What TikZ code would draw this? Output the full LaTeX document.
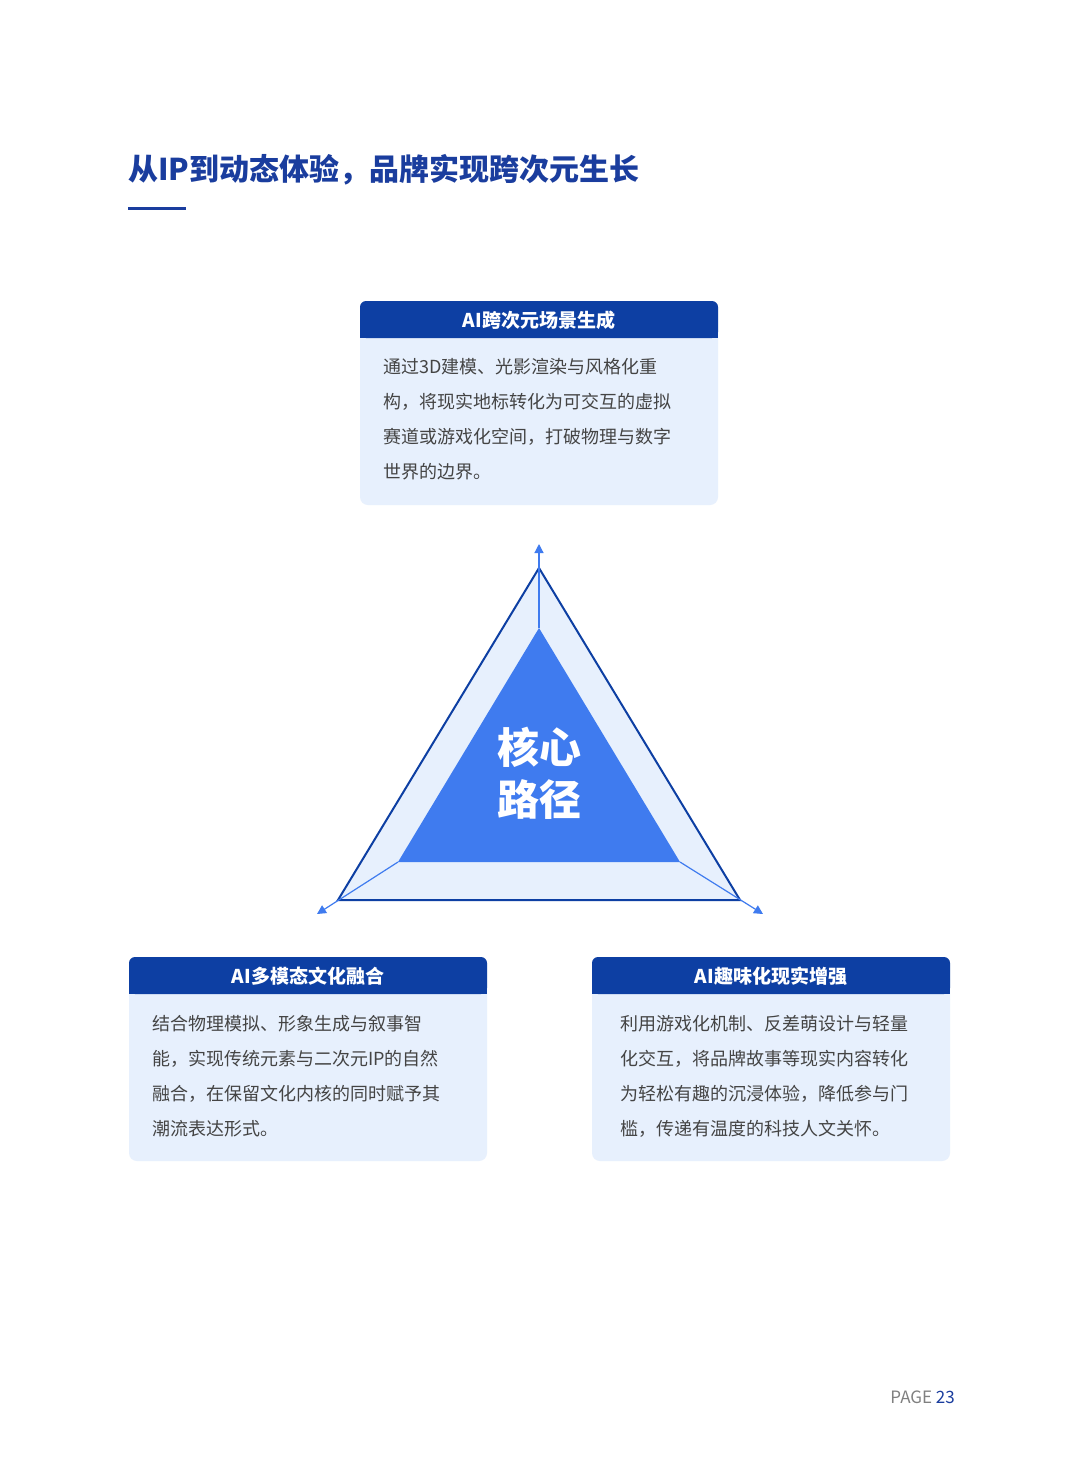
\documentclass[tikz,border=0pt]{standalone}
\usepackage{fontspec}
\setmainfont{Noto Sans CJK SC}
\newfontfamily\cjkb{Noto Sans CJK SC Bold}
\usetikzlibrary{arrows.meta}
\definecolor{dblue}{HTML}{0D3FA3}
\definecolor{tblue}{HTML}{1A3D9E}
\definecolor{lblue}{HTML}{E7F0FD}
\definecolor{mblue}{HTML}{3F7BEF}
\definecolor{tgray}{HTML}{444444}
\tikzset{
  hdr/.style={fill=dblue, rounded corners=6pt},
  bodyfill/.style={fill=lblue, rounded corners=8pt},
  hdrtxt/.style={text=white, font=\fontsize{19}{22}\selectfont\bfseries},
  bodytxt/.style={text=tgray, anchor=north west, align=left, inner sep=0pt, font=\fontsize{18}{35}\selectfont},
  spoke/.style={draw=mblue, line width=1.2pt, -{Triangle[length=9pt,width=9pt]}}
}
\begin{document}
\begin{tikzpicture}[x=1pt,y=-1pt]
\useasboundingbox (0,0) rectangle (1080,1465);
\fill[white] (0,0) rectangle (1080,1465);
% title
\node[anchor=west, text=tblue, font=\fontsize{30}{34}\selectfont\bfseries, inner sep=0pt] (title) at (128,170) {从IP到动态体验，品牌实现跨次元生长};
\draw[tblue, line width=3pt] (128,208) -- (186,208);
% boxes
\foreach \x/\y/\n in {360/301/a,129/957/b,592/957/c}{
  \fill[bodyfill] (\x,\y) rectangle ++(358,204);
  \fill[hdr] (\x,\y) rectangle ++(358,37);
  \fill[dblue] (\x,\y+20) rectangle ++(358,17);
}
\node[hdrtxt] (ha) at (539,320) {AI跨次元场景生成};
\node[hdrtxt] (hb) at (308,976) {AI多模态文化融合};
\node[hdrtxt] (hc) at (771,976) {AI趣味化现实增强};
\node[bodytxt] (ta) at (383,358) {通过3D建模、光影渲染与风格化重\\构，将现实地标转化为可交互的虚拟\\赛道或游戏化空间，打破物理与数字\\世界的边界。};
\node[bodytxt] (tb) at (152,1015) {结合物理模拟、形象生成与叙事智\\能，实现传统元素与二次元IP的自然\\融合，在保留文化内核的同时赋予其\\潮流表达形式。};
\node[bodytxt] (tc) at (620,1015) {利用游戏化机制、反差萌设计与轻量\\化交互，将品牌故事等现实内容转化\\为轻松有趣的沉浸体验，降低参与门\\槛，传递有温度的科技人文关怀。};
% triangle
\coordinate (OT) at (539,568); \coordinate (OL) at (338,900); \coordinate (OR) at (740,900);
\coordinate (IT) at (539,628); \coordinate (IL) at (398,862); \coordinate (IR) at (680,862);
\coordinate (AT) at (539,544); \coordinate (AL) at (317,914); \coordinate (AR) at (763,914);
\fill[lblue] (OT) -- (OL) -- (OR) -- cycle;
\fill[mblue] (IT) -- (IL) -- (IR) -- cycle;
\draw[dblue, line width=2pt, line join=miter] (OT) -- (OL) -- (OR) -- cycle;
\draw[spoke] (IT) -- (AT);
\draw[spoke] (IL) -- (AL);
\draw[spoke] (IR) -- (AR);
\node[text=white, font=\fontsize{42}{52}\selectfont\bfseries, align=center] (core) at (539,773) {核心\\路径};
% page
\node[anchor=east, font=\fontsize{17}{20}\selectfont, inner sep=0pt] (pg) at (955,1397) {\textcolor{gray}{PAGE} \textcolor{tblue}{23}};
\end{tikzpicture}
\end{document}
